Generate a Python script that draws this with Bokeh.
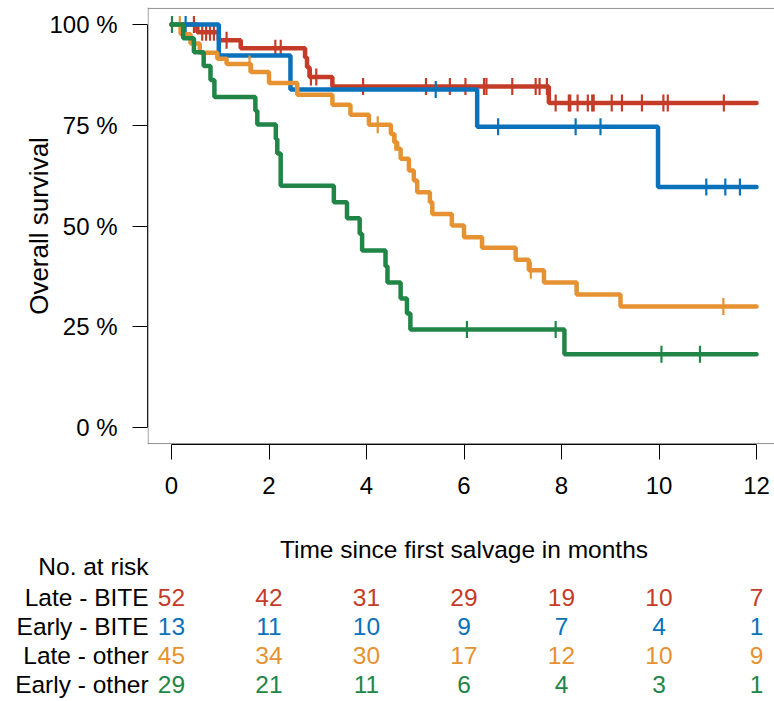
import numpy as np
from bokeh.plotting import figure
from bokeh.models import Range1d, FixedTicker, Span, PrintfTickFormatter
from bokeh.layouts import column
from bokeh.embed import file_html
from bokeh.resources import INLINE
from bokeh.core.properties import value

FONT = "Liberation Sans"

groups = ["Late - BITE", "Early - BITE", "Late - other", "Early - other"]
colors = ["#C43C28", "#0A72BA", "#E69232", "#218548"]

# Late - BITE
lb_t = [0.53, 0.97, 1.42, 2.74, 2.78, 2.83, 3.30, 7.74]
lb_s = [0.981, 0.961, 0.941, 0.918, 0.894, 0.870, 0.846, 0.805]
lb_c = [0.46, 0.63, 0.71, 0.79, 0.87, 1.13, 2.13, 2.24, 2.86, 2.97, 3.93, 5.22,
        5.71, 6.03, 6.41, 6.46, 6.99, 7.47, 7.55, 7.70, 7.88, 8.15, 8.18, 8.33,
        8.54, 8.63, 8.66, 9.03, 9.24, 9.65, 10.09, 10.18, 11.33]
# Early - BITE
eb_t = [0.97, 2.44, 6.27, 9.98]
eb_s = [0.923, 0.839, 0.746, 0.597]
eb_c = [0.29, 5.42, 6.70, 8.29, 8.80, 10.97, 11.36, 11.66]
# Late - other
lo_t = [0.19, 0.39, 0.58, 0.94, 1.13, 1.63, 2.00, 2.58, 3.30, 3.67, 4.05, 4.50,
        4.57, 4.63, 4.70, 4.87, 4.97, 5.04, 5.30, 5.35, 5.75, 6.00, 6.37, 7.06,
        7.33, 7.64, 8.31, 9.21]
lo_s = [0.976, 0.953, 0.930, 0.915, 0.902, 0.882, 0.855, 0.826, 0.801, 0.776,
        0.751, 0.728, 0.708, 0.692, 0.667, 0.638, 0.613, 0.584, 0.559, 0.530,
        0.501, 0.472, 0.446, 0.416, 0.390, 0.360, 0.330, 0.300]
lo_c = [0.17, 1.60, 4.23, 4.59, 7.37, 11.32]
# Early - other
eo_t = [0.24, 0.46, 0.66, 0.80, 0.88, 1.72, 1.76, 2.14, 2.17, 2.24, 3.33, 3.60,
        3.86, 3.91, 4.39, 4.43, 4.70, 4.83, 4.90, 8.06]
eo_s = [0.966, 0.931, 0.897, 0.862, 0.820, 0.786, 0.752, 0.716, 0.680, 0.600,
        0.559, 0.519, 0.481, 0.439, 0.400, 0.360, 0.320, 0.283, 0.243, 0.182]
eo_c = [0.01, 6.06, 7.88, 10.05, 10.84]

t_end = 12
x_ticks = [0, 2, 4, 6, 8, 10, 12]
y_ticks = [0, 25, 50, 75, 100]

risk = [
    [52, 42, 31, 29, 19, 10, 7],
    [13, 11, 10, 9, 7, 4, 1],
    [45, 34, 30, 17, 12, 10, 9],
    [29, 21, 11, 6, 4, 3, 1],
]

curves = [(lb_t, lb_s, lb_c), (eb_t, eb_s, eb_c), (lo_t, lo_s, lo_c), (eo_t, eo_s, eo_c)]

p = figure(width=774, height=520, x_range=Range1d(-0.4923, 12.369),
           y_range=Range1d(-4.22, 104.22), output_backend="svg",
           toolbar_location=None, min_border_left=147, min_border_right=0,
           min_border_top=7, min_border_bottom=76)
p.frame_align = False
p.outline_line_color = None
p.grid.grid_line_color = None
p.background_fill_color = "white"

for loc in (104, -4):
    p.add_layout(Span(location=loc, dimension="width", line_color="#8a8a8a", line_width=1))
p.add_layout(Span(location=-0.48, dimension="height", line_color="#8a8a8a", line_width=1))

for (t, s, c), col in zip(curves, colors):
    xs = np.array([0.0] + t + [t_end])
    ys = np.array([1.0] + s + [s[-1]]) * 100
    p.step(xs, ys, mode="after", line_color=col, line_width=4.5, line_cap="round")
    idx = np.searchsorted(xs, np.array(c), side="right") - 1
    p.scatter(np.array(c), ys[idx], marker="dash", angle=np.pi / 2, size=17,
              line_color=col, line_width=2.2)

for ax in (p.xaxis, p.yaxis):
    ax.axis_line_color = "black"
    ax.axis_line_width = 1
    ax.major_tick_line_color = "black"
    ax.major_tick_out = 15
    ax.major_tick_in = 0
    ax.minor_tick_line_color = None
    ax.major_label_text_font = FONT
    ax.major_label_text_font_size = "24px"
    ax.major_label_text_color = "black"

p.xaxis.ticker = FixedTicker(ticks=x_ticks)
p.xaxis.bounds = (0, 12)
p.xaxis.major_label_standoff = 17
p.yaxis.ticker = FixedTicker(ticks=y_ticks)
p.yaxis.bounds = (0, 100)
p.yaxis.formatter = PrintfTickFormatter(format="%d %%")
p.yaxis.major_label_standoff = 15
p.yaxis.axis_label = "Overall survival"
p.yaxis.axis_label_text_font = FONT
p.yaxis.axis_label_text_font_size = "26px"
p.yaxis.axis_label_text_font_style = "normal"
p.yaxis.axis_label_text_color = "black"
p.yaxis.axis_label_standoff = -8

q = figure(width=774, height=181, x_range=Range1d(-171 / 48.75, 603 / 48.75),
           y_range=Range1d(181, 0), output_backend="svg", toolbar_location=None,
           min_border=0, x_axis_location=None, y_axis_location=None)
q.frame_align = False
q.outline_line_color = None
q.grid.grid_line_color = None

txt = dict(text_font=value(FONT), text_font_size="24.5px", text_baseline="middle")
q.text(x=[6], y=[29], text=["Time since first salvage in months"], text_align="center",
       text_color="black", **txt)
q.text(x=[-0.47], y=[46], text=["No. at risk"], text_align="right", text_color="black", **txt)
row_y = [77, 106, 135, 164]
for g, col, r, yy in zip(groups, colors, risk, row_y):
    q.text(x=[-0.47], y=[yy], text=[g], text_align="right", text_color="black", **txt)
    q.text(x=x_ticks, y=[yy] * len(x_ticks), text=[str(v) for v in r], text_align="center",
           text_color=col, **txt)

layout = column(p, q, spacing=0)
open("out.html", "w").write(file_html(layout, INLINE))
